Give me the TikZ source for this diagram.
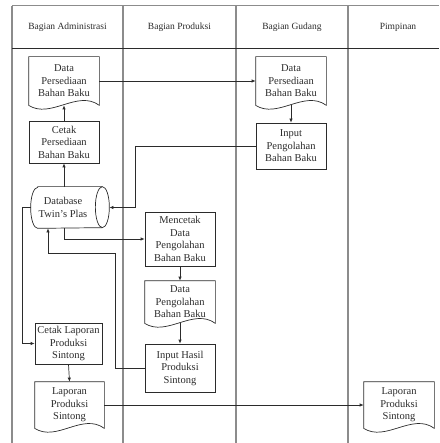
\documentclass[tikz,border=0pt]{standalone}
\usepackage{fontspec}
\setmainfont{Liberation Serif}
\usetikzlibrary{arrows.meta,calc}
\definecolor{lanec}{HTML}{8C8C8C}
\definecolor{ink}{HTML}{2B2B2B}
\newcommand{\drawdoc}[1]{\draw[shapeline] (#1.south west) -- (#1.north west) -- (#1.north east) -- (#1.south east) .. controls +(-22,-16) and +(22,14) .. (#1.south west) -- cycle;}
\begin{document}
\begin{tikzpicture}[x=1pt,y=-1pt,
  laneline/.style={draw=lanec,line width=1.2pt},
  hdr/.style={font=\fontsize{9.5}{11}\selectfont,text=ink},
  shapeline/.style={draw=ink,line width=0.7pt},
  box/.style={shapeline,rectangle,inner sep=0pt,align=center,font=\fontsize{10.5}{12.5}\selectfont,text=ink},
  docbox/.style={box,draw=none},
  arr/.style={draw=ink,line width=0.7pt,-{Latex[length=4pt,width=3.5pt]}},
  conn/.style={draw=ink,line width=0.7pt}]
\useasboundingbox (0,0) rectangle (439,443);
% swimlanes
\foreach \xx in {12,123,236,348} \draw[laneline] (\xx,6) -- (\xx,443);
\draw[draw=lanec,line width=1pt] (12,6) -- (439,6);
\draw[draw=ink,line width=0.9pt] (12,48) -- (439,48);
\node[hdr] (h1) at (67.5,27) {Bagian Administrasi};
\node[hdr] (h2) at (179.5,27) {Bagian Produksi};
\node[hdr] (h3) at (292,27) {Bagian Gudang};
\node[hdr] (h4) at (398,27) {Pimpinan};
% nodes
\node[docbox,minimum width=70,minimum height=48] (dpa) at (64,81) {Data\\Persediaan\\Bahan Baku};
\drawdoc{dpa}
\node[docbox,minimum width=70,minimum height=48] (dpg) at (291,81) {Data\\Persediaan\\Bahan Baku};
\drawdoc{dpg}
\node[box,minimum width=70,minimum height=42] (cpb) at (64,142) {Cetak\\Persediaan\\Bahan Baku};
\node[box,minimum width=70,minimum height=46] (ipb) at (291,146) {Input\\Pengolahan\\Bahan Baku};
\node[docbox,minimum width=78,minimum height=41,
  label={[box,draw=none,xshift=-7pt]center:{Database\\Twin's Plas}}] (db) at (70,207.5) {};
\draw[shapeline] ($(db.north west)+(7,0)$) -- ($(db.north east)+(-7,0)$)
  arc[start angle=-90,end angle=90,x radius=7,y radius=20.5]
  -- ($(db.south west)+(7,0)$)
  arc[start angle=90,end angle=270,x radius=7,y radius=20.5] -- cycle;
\draw[shapeline] ($(db.north east)+(-7,0)$) arc[start angle=-90,end angle=-270,x radius=7,y radius=20.5];
\node[box,minimum width=70,minimum height=54] (mcd) at (180,239) {Mencetak\\Data\\Pengolahan\\Bahan Baku};
\node[docbox,minimum width=70,minimum height=42] (dpo) at (180,302) {Data\\Pengolahan\\Bahan Baku};
\drawdoc{dpo}
\node[box,minimum width=70,minimum height=48] (ihp) at (180,368) {Input Hasil\\Produksi\\Sintong};
\node[box,minimum width=67,minimum height=41] (cls) at (68.5,343.5) {Cetak Laporan\\Produksi\\Sintong};
\node[docbox,minimum width=69,minimum height=46] (lps) at (69.5,405) {Laporan\\Produksi\\Sintong};
\drawdoc{lps}
\node[docbox,minimum width=70,minimum height=46] (lpp) at (399,405) {Laporan\\Produksi\\Sintong};
\drawdoc{lpp}
% helper coordinates
\coordinate (c1) at (115,253);
\coordinate (c2) at (48,253);
\coordinate (c3) at (135,147);
\coordinate (c4) at (22,208);
% connectors
\draw[arr] (dpa.east) -- (dpg.west);
\draw[arr] (dpg.south) -- (ipb.north);
\draw[arr] (ipb.west -| c3) |- (db.east);
\draw[conn] (ipb.west) -- (ipb.west -| c3);
\draw[arr] (cpb.north) -- (dpa.south);
\draw[arr] (db.north -| cpb.south) -- (cpb.south);
\draw[arr] (db.south -| cpb.south) |- (mcd.west);
\draw[arr] (mcd.south) -- (dpo.north);
\draw[arr] (dpo.south) -- (ihp.north);
\draw[arr] (ihp.west) -| (c1) -- (c2) -- (c2 |- db.south);
\draw[arr] (db.west) -- (db.west -| c4) |- (cls.west);
\draw[arr] (cls.south) -- (lps.north);
\draw[arr] (lps.east) -- (lpp.west);
\end{tikzpicture}
\end{document}
